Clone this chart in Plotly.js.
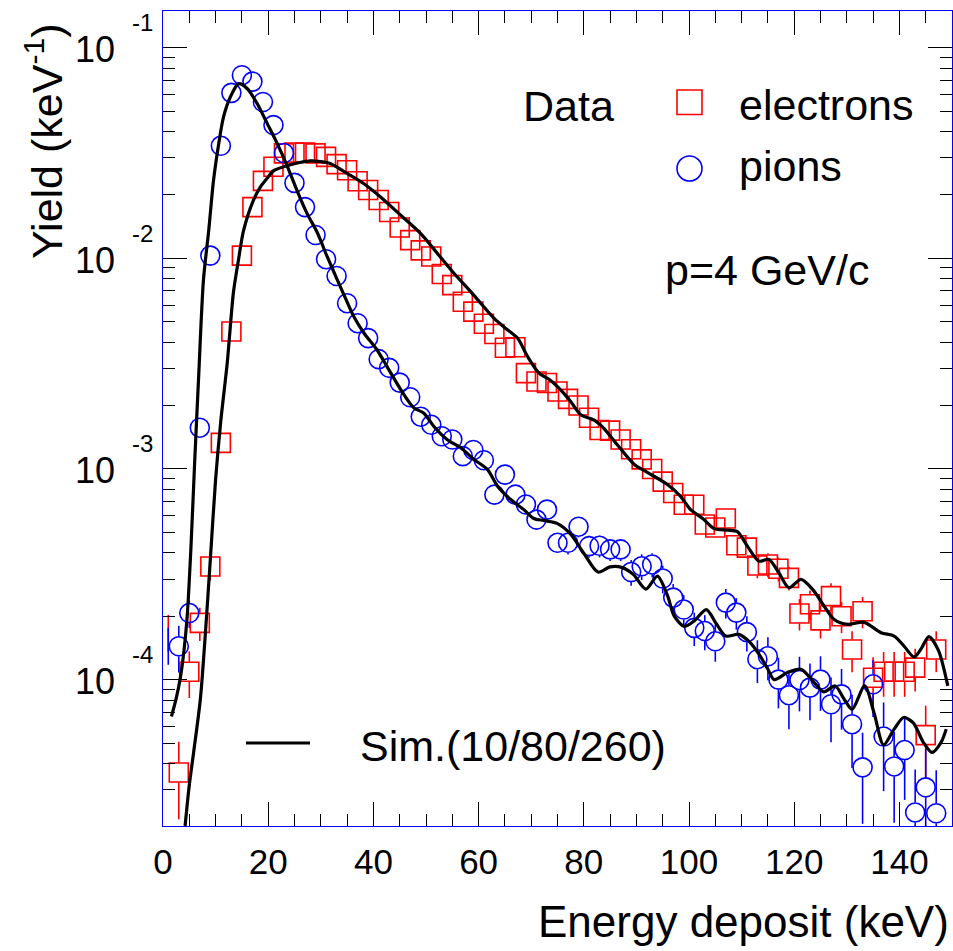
<!DOCTYPE html>
<html>
<head>
<meta charset="utf-8">
<script src="https://cdn.plot.ly/plotly-3.0.1.min.js"></script>
<style>
  html, body { margin: 0; padding: 0; background: #ffffff; }
  #chart { width: 953px; height: 951px; }
</style>
</head>
<body>
<div id="chart"></div>
<script>
// Bin centres (keV), 2 keV wide bins
const binCenters = [
  1, 3, 5, 7, 9, 11, 13, 15, 17, 19, 21, 23, 25, 27, 29, 31, 33, 35, 37, 39,
  41, 43, 45, 47, 49, 51, 53, 55, 57, 59, 61, 63, 65, 67, 69, 71, 73, 75, 77, 79,
  81, 83, 85, 87, 89, 91, 93, 95, 97, 99, 101, 103, 105, 107, 109, 111, 113, 115, 117, 119,
  121, 123, 125, 127, 129, 131, 133, 135, 137, 139, 141, 143, 145, 147
];

// Measured yield for electrons (keV^-1) and relative errors (%)
const electronYield = [
  1.69e-4, 3.62e-5, 1.09e-4, 1.86e-4, 3.44e-4, 1.33e-3, 4.49e-3, 1.03e-2, 1.75e-2, 2.33e-2,
  2.72e-2, 3.15e-2, 3.18e-2, 3.18e-2, 3.15e-2, 3.03e-2, 2.80e-2, 2.62e-2, 2.32e-2, 2.11e-2,
  1.89e-2, 1.66e-2, 1.40e-2, 1.22e-2, 1.09e-2, 1.02e-2, 8.43e-3, 7.46e-3, 6.22e-3, 5.58e-3,
  4.89e-3, 4.37e-3, 3.76e-3, 3.78e-3, 2.85e-3, 2.60e-3, 2.56e-3, 2.33e-3, 2.15e-3, 2.00e-3,
  1.75e-3, 1.53e-3, 1.52e-3, 1.38e-3, 1.24e-3, 1.11e-3, 1.00e-3, 8.71e-4, 7.69e-4, 6.76e-4,
  6.76e-4, 5.45e-4, 5.27e-4, 5.82e-4, 4.34e-4, 4.23e-4, 3.48e-4, 3.52e-4, 3.36e-4, 3.04e-4,
  2.06e-4, 2.28e-4, 1.91e-4, 2.49e-4, 2.00e-4, 1.39e-4, 2.11e-4, 1.02e-4, 1.09e-4, 1.09e-4,
  1.09e-4, 1.14e-4, 5.45e-5, 1.39e-4
];
const electronErrPct = [
  20, 40, 25, 18, 14, 7, 4, 3, 2, 2,
  2, 2, 2, 2, 2, 2, 2, 2, 2, 2,
  2, 2, 2, 2, 2, 2, 3, 3, 3, 3,
  3, 3, 3, 3, 4, 4, 4, 4, 4, 4,
  5, 5, 5, 5, 5, 5, 5, 7, 7, 7,
  7, 9, 9, 9, 11, 11, 13, 13, 13, 13,
  17, 16, 18, 15, 17, 22, 17, 25, 24, 24,
  24, 23, 38, 22
];

// Measured yield for pions (keV^-1) and relative errors (%)
const pionYield = [
  1.47e-4, 1.44e-4, 2.07e-4, 1.57e-3, 1.03e-2, 3.42e-2, 6.10e-2, 7.40e-2, 6.90e-2, 5.52e-2,
  4.29e-2, 3.16e-2, 2.28e-2, 1.75e-2, 1.29e-2, 9.90e-3, 8.24e-3, 6.12e-3, 4.92e-3, 4.18e-3,
  3.32e-3, 3.02e-3, 2.57e-3, 2.19e-3, 1.77e-3, 1.62e-3, 1.43e-3, 1.38e-3, 1.15e-3, 1.23e-3,
  1.10e-3, 7.55e-4, 9.40e-4, 7.55e-4, 6.78e-4, 5.75e-4, 6.41e-4, 4.46e-4, 4.46e-4, 5.32e-4,
  4.30e-4, 4.32e-4, 4.15e-4, 4.15e-4, 3.24e-4, 3.45e-4, 3.52e-4, 3.02e-4, 2.45e-4, 2.15e-4,
  1.76e-4, 1.70e-4, 1.52e-4, 2.32e-4, 2.08e-4, 1.68e-4, 1.25e-4, 1.29e-4, 1.00e-4, 8.43e-5,
  9.95e-5, 9.16e-5, 1.00e-4, 7.64e-5, 8.51e-5, 6.14e-5, 3.83e-5, 9.50e-5, 5.37e-5, 3.87e-5,
  4.63e-5, 2.34e-5, 3.08e-5, 2.32e-5
];
const pionErrPct = [
  20, 25, 15, 6, 2, 2, 2, 2, 2, 2,
  2, 2, 2, 2, 2, 2, 2, 2, 2, 2,
  3, 3, 3, 3, 5, 5, 5, 5, 5, 5,
  5, 8, 8, 8, 8, 8, 8, 8, 12, 11,
  12, 12, 12, 12, 14, 14, 13, 15, 16, 17,
  18, 19, 20, 16, 17, 19, 23, 23, 27, 31,
  29, 30, 29, 34, 32, 38, 46, 30, 45, 46,
  42, 60, 52, 60
];

// Simulation (10/80/260) curves
const simElectronE = [
  4.2, 5.0, 5.8, 7.1, 8.0, 9.0, 10.0, 11.0, 12.2, 13.4, 14.4, 15.3, 17.2, 18.5, 19.8, 21.0,
  23.6, 26.0, 28.0, 30.0, 31.8, 35.0, 38.2, 41.3, 45.2, 49.0, 52.1, 55.3, 58.5, 60.4, 62.9,
  65.1, 67.4, 69.3, 71.5, 73.7, 75.9, 77.5, 79.4, 81.9, 83.8, 86.4, 89.6, 92.0, 95.9, 98.4,
  100.3, 102.6, 104.8, 107.3, 109.2, 111.1, 113.3, 115.2, 117.1, 119.0, 121.3, 123.5, 125.7,
  127.6, 130.2, 133.3, 136.5, 139.0, 140.9, 142.8, 144.2, 145.6, 147.4, 149.2
];
const simElectronYield = [
  2.02e-5, 3.16e-5, 4.47e-5, 8.07e-5, 1.58e-4, 3.72e-4, 8.91e-4, 1.70e-3, 3.16e-3, 6.92e-3,
  1.00e-2, 1.35e-2, 1.89e-2, 2.18e-2, 2.40e-2, 2.60e-2, 2.75e-2, 2.85e-2, 2.90e-2, 2.88e-2,
  2.82e-2, 2.53e-2, 2.26e-2, 1.96e-2, 1.60e-2, 1.31e-2, 1.06e-2, 8.49e-3, 6.95e-3, 6.12e-3,
  5.20e-3, 4.66e-3, 4.18e-3, 3.42e-3, 2.85e-3, 2.63e-3, 2.33e-3, 2.09e-3, 1.81e-3, 1.71e-3,
  1.56e-3, 1.30e-3, 1.05e-3, 9.66e-4, 8.43e-4, 7.41e-4, 6.41e-4, 5.82e-4, 5.21e-4, 5.12e-4,
  5.04e-4, 4.30e-4, 3.65e-4, 3.72e-4, 3.21e-4, 2.73e-4, 2.99e-4, 2.68e-4, 2.23e-4, 1.93e-4,
  1.83e-4, 1.87e-4, 1.67e-4, 1.61e-4, 1.44e-4, 1.28e-4, 1.41e-4, 1.60e-4, 1.38e-4, 9.33e-5
];
const simPionE = [
  1.6, 2.5, 3.3, 4.0, 4.6, 5.3, 6.0, 6.8, 7.7, 8.7, 9.6, 10.6, 11.5, 12.8, 14.4, 16.0,
  17.9, 19.8, 21.7, 23.6, 25.5, 27.4, 29.3, 31.2, 33.1, 34.7, 36.3, 38.2, 40.7, 42.6, 45.2,
  47.7, 49.6, 51.5, 54.0, 56.6, 59.1, 61.7, 63.6, 66.1, 68.6, 70.5, 72.4, 75.0, 77.5, 80.0,
  82.7, 85.0, 87.2, 89.4, 91.8, 94.0, 95.9, 97.2, 99.1, 101.0, 103.3, 105.2, 107.0, 109.5,
  111.5, 113.3, 115.0, 116.2, 118.7, 121.3, 123.8, 125.6, 127.8, 129.5, 131.0, 133.4, 135.2,
  137.0, 139.0, 140.8, 142.6, 144.6, 146.2, 147.9, 148.9
];
const simPionYield = [
  6.68e-5, 8.13e-5, 1.02e-4, 1.38e-4, 2.00e-4, 4.17e-4, 1.05e-3, 2.82e-3, 7.94e-3, 1.36e-2,
  2.34e-2, 3.51e-2, 4.68e-2, 5.83e-2, 6.75e-2, 6.40e-2, 5.43e-2, 4.37e-2, 3.51e-2, 2.75e-2,
  2.09e-2, 1.63e-2, 1.33e-2, 1.02e-2, 7.94e-3, 6.46e-3, 5.28e-3, 4.42e-3, 3.67e-3, 3.06e-3,
  2.38e-3, 1.95e-3, 1.84e-3, 1.59e-3, 1.38e-3, 1.26e-3, 1.11e-3, 9.93e-4, 8.28e-4, 7.16e-4,
  6.41e-4, 5.82e-4, 5.69e-4, 5.50e-4, 4.90e-4, 3.98e-4, 3.24e-4, 3.43e-4, 3.41e-4, 3.16e-4,
  2.69e-4, 3.10e-4, 2.51e-4, 2.00e-4, 1.79e-4, 1.90e-4, 2.15e-4, 1.84e-4, 1.61e-4, 1.64e-4,
  1.51e-4, 1.32e-4, 1.12e-4, 1.00e-4, 1.08e-4, 1.12e-4, 9.68e-5, 8.75e-5, 9.33e-5, 8.07e-5,
  7.23e-5, 9.33e-5, 6.92e-5, 4.90e-5, 5.82e-5, 6.61e-5, 6.24e-5, 5.01e-5, 4.51e-5, 5.02e-5,
  5.82e-5
];

// Axis ticks
const xTickVals = [0, 20, 40, 60, 80, 100, 120, 140];
const yDecades = [-1, -2, -3, -4];

// ---- geometry ----
const W = 953, H = 951;
const M = { l: 163, r: 1, t: 11, b: 125 };
const plotW = W - M.l - M.r, plotH = H - M.t - M.b;
const xRange = [0, 150];
const yLogRange = [-4.695, -0.826];
const FONT = '"Liberation Sans", Arial, Helvetica, sans-serif';
const RED = '#ff0000', BLUE = '#0000ff';
const px2x = px => (px - M.l) / plotW;
const px2y = py => (H - M.b - py) / plotH;

const markerSize = 19;
const decadesPerPx = (yLogRange[1] - yLogRange[0]) / plotH;

// Marker of the first bin is not drawn (it would cross the frame), only its error bar.
const markerOpacity = binCenters.map(x => (x - 9.5 * (xRange[1] - xRange[0]) / plotW < xRange[0] ? 0 : 1));

// Vertical error bars that stop at the edge of the open marker
function errorSegments(xs, ys, pct, opac) {
  const gap = Math.pow(10, (markerSize / 2 + 0.5) * decadesPerPx);
  const ex = [], ey = [];
  xs.forEach((x, i) => {
    const y = ys[i], e = y * pct[i] / 100;
    const hi = y + e, lo = Math.max(y - e, 1e-9);
    if (opac[i] === 0) { ex.push(x, x, null); ey.push(lo, hi, null); return; }
    if (hi > y * gap) { ex.push(x, x, null); ey.push(y * gap, hi, null); }
    if (lo < y / gap) { ex.push(x, x, null); ey.push(y / gap, lo, null); }
  });
  return { ex, ey };
}

const eErr = errorSegments(binCenters, electronYield, electronErrPct, markerOpacity);
const pErr = errorSegments(binCenters, pionYield, pionErrPct, markerOpacity);

const traces = [
  { x: eErr.ex, y: eErr.ey, mode: 'lines', line: { color: RED, width: 1.6 }, hoverinfo: 'skip', showlegend: false },
  { x: pErr.ex, y: pErr.ey, mode: 'lines', line: { color: BLUE, width: 1.6 }, hoverinfo: 'skip', showlegend: false },
  {
    x: binCenters, y: electronYield, mode: 'markers', name: 'electrons', showlegend: false,
    marker: { symbol: 'square-open', size: markerSize, color: RED, opacity: markerOpacity, line: { color: RED, width: 1.6 } }
  },
  {
    x: binCenters, y: pionYield, mode: 'markers', name: 'pions', showlegend: false,
    marker: { symbol: 'circle-open', size: markerSize, color: BLUE, opacity: markerOpacity, line: { color: BLUE, width: 1.6 } }
  },
  {
    x: simElectronE, y: simElectronYield, mode: 'lines', showlegend: false,
    line: { color: '#000000', width: 3.2, shape: 'spline', smoothing: 0.8 }
  },
  {
    x: simPionE, y: simPionYield, mode: 'lines', showlegend: false,
    line: { color: '#000000', width: 3.2, shape: 'spline', smoothing: 0.8 }
  }
];

// minor ticks of the logarithmic axis
const yMinor = [];
for (let e = -5; e <= -1; e++) for (let m = 2; m <= 9; m++) yMinor.push(m * Math.pow(10, e));

const annotations = [];
yDecades.forEach(d => {
  annotations.push({
    xref: 'paper', yref: 'y', x: px2x(117), y: d, xanchor: 'right', yanchor: 'middle', yshift: -2,
    text: '10', showarrow: false, font: { family: FONT, size: 36, color: '#000' }
  });
  annotations.push({
    xref: 'paper', yref: 'y', x: px2x(130), y: d, xanchor: 'left', yanchor: 'middle', yshift: 25,
    text: String(d), showarrow: false, font: { family: FONT, size: 24, color: '#000' }
  });
});
const txt = (text, xpx, ypx, anchor, size) => ({
  xref: 'paper', yref: 'paper', x: px2x(xpx), y: px2y(ypx), xanchor: anchor, yanchor: 'middle',
  text, showarrow: false, font: { family: FONT, size, color: '#000' }
});
annotations.push(txt('Energy deposit (keV)', 951, 921, 'right', 44));
annotations.push(Object.assign(txt('Yield (keV<sup>-1</sup>)', 44, 142, 'center', 43), { textangle: -90 }));
annotations.push(txt('Data', 521, 106, 'left', 43));
annotations.push(txt('electrons', 737, 105, 'left', 43));
annotations.push(txt('pions', 737, 166, 'left', 43));
annotations.push(txt('p=4 GeV/c', 663, 270, 'left', 43));
annotations.push(txt('Sim.(10/80/260)', 358, 746, 'left', 43));

const shapes = [
  { type: 'rect', xref: 'paper', yref: 'paper', x0: px2x(677), x1: px2x(702), y0: px2y(90), y1: px2y(114.5),
    line: { color: RED, width: 1.6 } },
  { type: 'circle', xref: 'paper', yref: 'paper', x0: px2x(677), x1: px2x(702), y0: px2y(156), y1: px2y(181),
    line: { color: BLUE, width: 1.6 } },
  { type: 'line', xref: 'paper', yref: 'paper', x0: px2x(246), x1: px2x(310), y0: px2y(743), y1: px2y(743),
    line: { color: '#000', width: 3.2 } }
];

const layout = {
  width: W, height: H,
  margin: { l: M.l, r: M.r, t: M.t, b: M.b, pad: 0 },
  paper_bgcolor: '#ffffff', plot_bgcolor: '#ffffff',
  showlegend: false, hovermode: false,
  xaxis: {
    type: 'linear', range: xRange, showgrid: false, zeroline: false,
    showline: true, linecolor: BLUE, linewidth: 1, mirror: 'ticks',
    ticks: 'inside', ticklen: 24, tickwidth: 1, tickcolor: '#000',
    tickmode: 'array', tickvals: xTickVals, ticktext: xTickVals.map(String),
    tickfont: { family: FONT, size: 35, color: '#000' }, ticklabelstandoff: 5,
    minor: { ticks: 'inside', ticklen: 12, tickwidth: 1, tickcolor: '#000', dtick: 5, tick0: 0, showgrid: false }
  },
  yaxis: {
    type: 'log', range: yLogRange, showgrid: false, zeroline: false,
    showline: true, linecolor: BLUE, linewidth: 1, mirror: 'ticks',
    ticks: 'inside', ticklen: 24, tickwidth: 1, tickcolor: '#000',
    tickmode: 'array', tickvals: yDecades.map(d => Math.pow(10, d)), showticklabels: false,
    minor: { ticks: 'inside', ticklen: 12, tickwidth: 1, tickcolor: '#000', tickmode: 'array', tickvals: yMinor, showgrid: false }
  },
  annotations, shapes
};

Plotly.newPlot('chart', traces, layout, { staticPlot: true, displayModeBar: false });
</script>
</body>
</html>
